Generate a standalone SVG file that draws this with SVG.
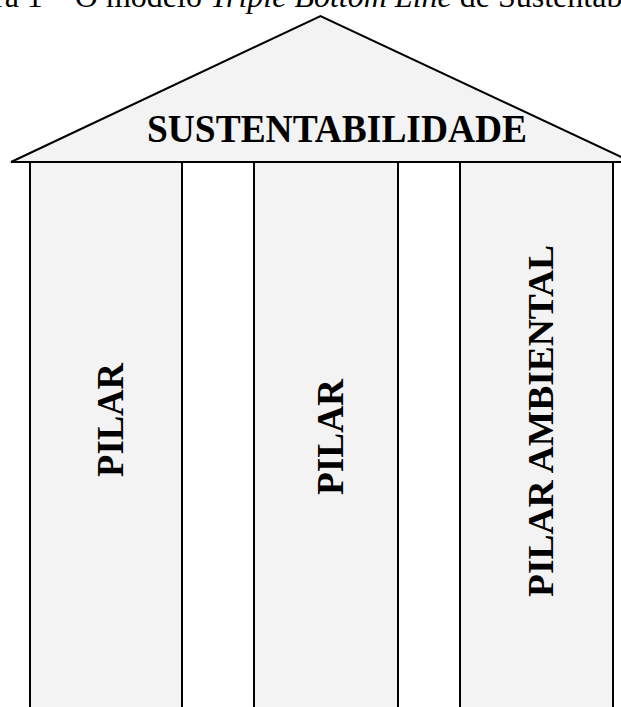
<svg xmlns="http://www.w3.org/2000/svg" width="621" height="707" viewBox="0 0 621 707">
<style>
.shape{fill:#f3f3f3;stroke:#000;stroke-width:2}
.gap{fill:#fff;stroke:#000;stroke-width:2}
.lbl{font-family:"Liberation Serif","Times New Roman",serif;font-weight:bold;fill:#000}
.cap{font-family:"Liberation Serif","Times New Roman",serif;font-size:32px;fill:#000}
</style>
<rect width="621" height="707" fill="#fff"/>
<text class="cap" x="-64.7" y="7">Figura 1 – O modelo <tspan font-style="italic">Triple Bottom Line</tspan> de Sustentabilidade</text>
<g id="roof">
<polygon class="shape" points="11,162 320.5,16 632,162"/>
<text class="lbl" x="147" y="142" font-size="39" textLength="380" lengthAdjust="spacingAndGlyphs">SUSTENTABILIDADE</text>
</g>
<g id="pilar-1">
<rect class="shape" x="30" y="162" width="152" height="560"/>
<text class="lbl" transform="translate(122.5,477) rotate(-90)" font-size="38" textLength="114" lengthAdjust="spacingAndGlyphs">PILAR</text>
</g>
<g id="gap-1"><rect class="gap" x="182" y="162" width="72" height="560"/></g>
<g id="pilar-2">
<rect class="shape" x="254" y="162" width="144" height="560"/>
<text class="lbl" transform="translate(343,495) rotate(-90)" font-size="38" textLength="116" lengthAdjust="spacingAndGlyphs">PILAR</text>
</g>
<g id="gap-2"><rect class="gap" x="398" y="162" width="62" height="560"/></g>
<g id="pilar-3">
<rect class="shape" x="460" y="162" width="153" height="560"/>
<text class="lbl" transform="translate(553,597) rotate(-90)" font-size="35" textLength="352" lengthAdjust="spacingAndGlyphs">PILAR AMBIENTAL</text>
</g>
<g id="connectors"/>
</svg>
